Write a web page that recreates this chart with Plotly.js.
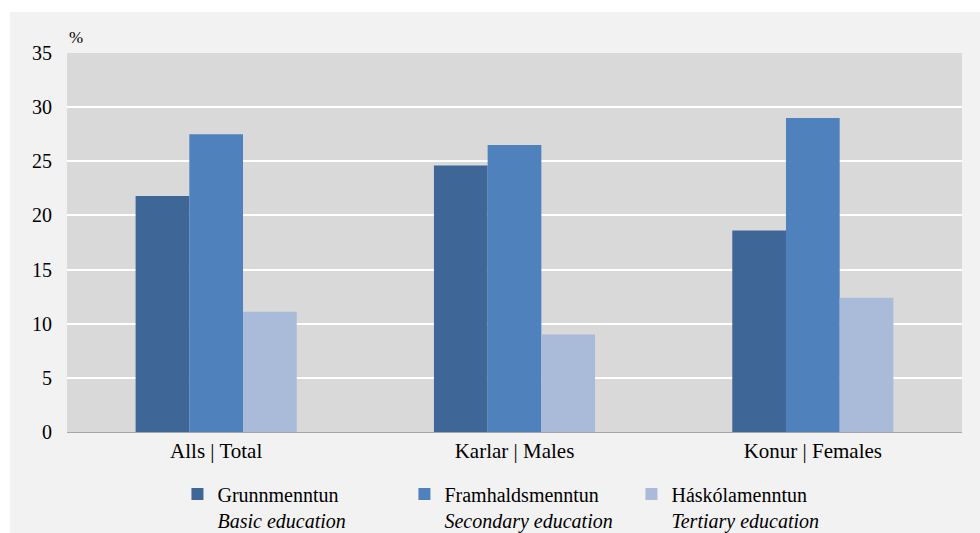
<!DOCTYPE html>
<html>
<head>
<meta charset="utf-8">
<script src="https://cdn.plot.ly/plotly-3.0.1.min.js"></script>
<style>
html,body{margin:0;padding:0;background:#ffffff;width:980px;height:533px;overflow:hidden;}
#chart{position:absolute;left:10px;top:12px;width:970px;height:521px;}
</style>
</head>
<body>
<div id="chart"></div>
<script>
const categories = ["Alls | Total", "Karlar | Males", "Konur | Females"];
const seriesNames = [
  "Grunnmenntun<br><i>Basic education</i>",
  "Framhaldsmenntun<br><i>Secondary education</i>",
  "Háskólamenntun<br><i>Tertiary education</i>"
];
const basicValues = [21.8, 24.6, 18.6];
const secondaryValues = [27.5, 26.5, 29.0];
const tertiaryValues = [11.1, 9.0, 12.4];
const colors = ["#3e6797", "#4f81bd", "#aabad9"];
const yTicks = [0, 5, 10, 15, 20, 25, 30, 35];

const valueSets = [basicValues, secondaryValues, tertiaryValues];
const traces = valueSets.map((vals, i) => ({
  type: "bar",
  x: categories,
  y: vals,
  name: seriesNames[i],
  marker: {color: colors[i], line: {width: 0}},
  hoverinfo: "y+name"
}));

const fam = "'Liberation Serif', 'Times New Roman', Times, serif";
const font = {family: fam, size: 20, color: "#000000"};

const layout = {
  width: 970,
  height: 521,
  paper_bgcolor: "#f2f2f2",
  plot_bgcolor: "#d9d9d9",
  font: font,
  margin: {l: 57, r: 18, t: 41, b: 101, autoexpand: false},
  barmode: "group",
  bargap: 0.46,
  bargroupgap: 0,
  showlegend: true,
  legend: {
    orientation: "h",
    x: 0.1234,
    xanchor: "left",
    y: -0.112,
    yanchor: "top",
    valign: "top",
    entrywidth: 182,
    entrywidthmode: "pixels",
    font: {family: fam, size: 20, color: "#000000"},
    bgcolor: "rgba(0,0,0,0)",
    itemclick: false,
    traceorder: "normal"
  },
  xaxis: {
    type: "category",
    showgrid: false,
    showline: true,
    linecolor: "#a6a6a6",
    linewidth: 1,
    ticks: "",
    tickfont: {family: fam, size: 21, color: "#000000"},
    zeroline: false
  },
  yaxis: {
    range: [0, 35],
    tickvals: yTicks,
    ticktext: yTicks.map(String),
    showgrid: true,
    gridcolor: "#ffffff",
    gridwidth: 2,
    zeroline: false,
    showline: false,
    ticks: "",
    ticklabelstandoff: 14,
    tickfont: font
  },
  annotations: [{
    text: "%",
    xref: "paper", yref: "paper",
    x: 0, y: 1,
    xanchor: "left", yanchor: "bottom",
    yshift: 4,
    showarrow: false,
    font: {family: fam, size: 17, color: "#000000"}
  }]
};

Plotly.newPlot("chart", traces, layout, {displayModeBar: false, staticPlot: true});
</script>
</body>
</html>
